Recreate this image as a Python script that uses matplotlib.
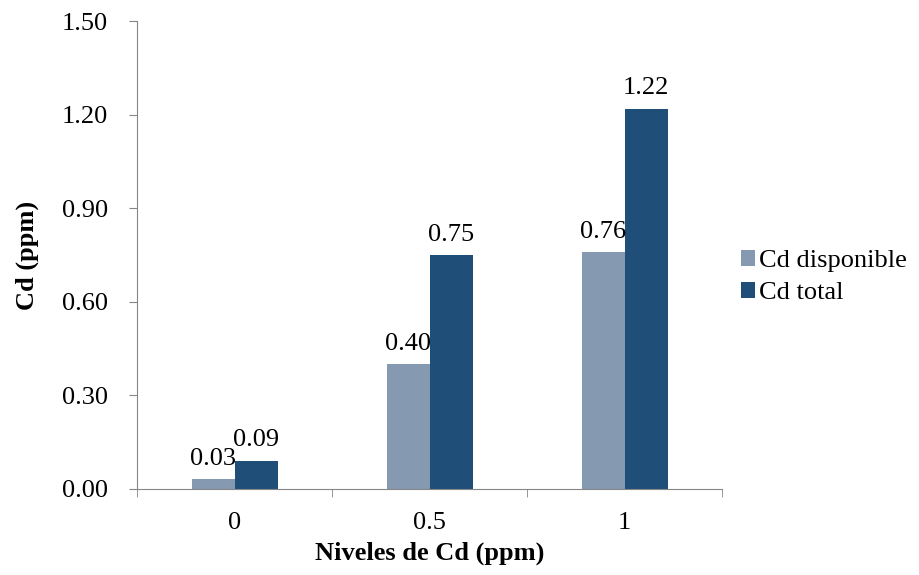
import matplotlib.pyplot as plt
import numpy as np

plt.rcParams['font.family'] = ['Liberation Serif', 'DejaVu Serif']

# Datos
niveles = ['0', '0.5', '1']
cd_disponible = [0.03, 0.40, 0.76]
cd_total = [0.09, 0.75, 1.22]
series = ['Cd disponible', 'Cd total']
colores = ['#8599b1', '#1f4e79']

fig = plt.figure(figsize=(9.2, 5.75), dpi=100)
ax = fig.add_axes([0.149, 0.150, 0.636, 0.813])

x = np.arange(len(niveles))
w = 0.22
for i, (vals, lab, col) in enumerate(zip([cd_disponible, cd_total], series, colores)):
    pos = x + (i - 0.5) * w
    ax.bar(pos, vals, width=w, color=col, label=lab)
    for p, v in zip(pos, vals):
        ax.text(p, v + 0.03, f'{v:.2f}', ha='center', va='bottom', fontsize=19)

ax.set_xlim(-0.5, 2.5)
ax.set_ylim(0, 1.5)
ax.set_yticks(np.arange(0, 1.51, 0.3))
ax.set_yticklabels([f'{t:.2f}' for t in np.arange(0, 1.51, 0.3)], fontsize=19)
ax.set_xticks(x)
ax.set_xticklabels(niveles, fontsize=19)
ax.set_xticks([-0.5, 0.5, 1.5, 2.5], minor=True)
ax.tick_params(axis='x', which='major', length=0, pad=17)
ax.tick_params(axis='x', which='minor', length=6, color='#868686')
ax.tick_params(axis='y', length=6, color='#868686', pad=15)

for s in ['top', 'right']:
    ax.spines[s].set_visible(False)
for s in ['left', 'bottom']:
    ax.spines[s].set_color('#868686')

ax.set_xlabel('Niveles de Cd (ppm)', fontsize=19, fontweight='bold', labelpad=5)
ax.set_ylabel('Cd (ppm)', fontsize=19, fontweight='bold', labelpad=16)

ax.legend(loc='center left', bbox_to_anchor=(1.014, 0.453), frameon=False, fontsize=19,
          handlelength=0.55, handleheight=0.55, handletextpad=0.15, labelspacing=0.35,
          borderaxespad=0)

fig.savefig('out.png', dpi=100)
